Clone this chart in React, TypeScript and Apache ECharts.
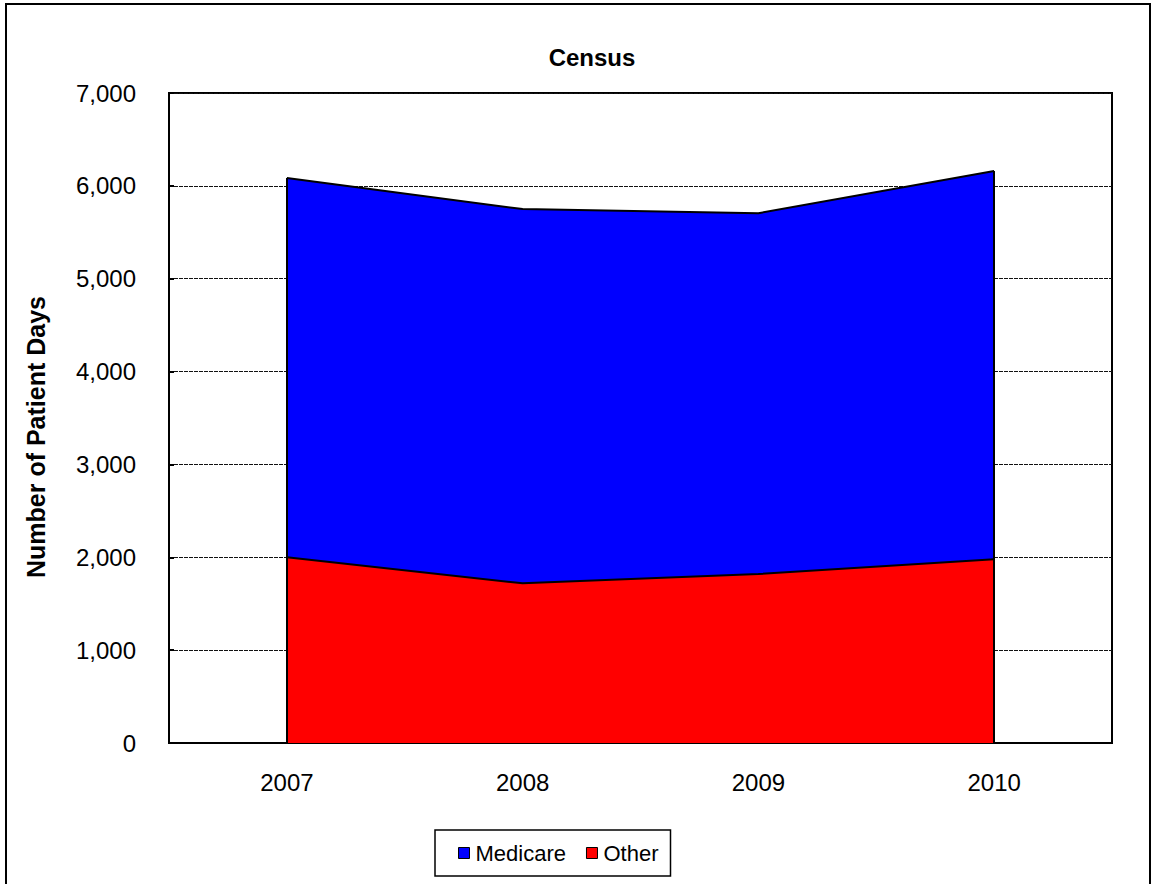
import React, { useEffect, useRef } from "react";
import * as echarts from "echarts";

const categories = ["2007", "2008", "2009", "2010"];
const otherValues = [2000, 1720, 1820, 1980];
const medicareValues = [4085, 4030, 3885, 4180];
const yTicks = [0, 1000, 2000, 3000, 4000, 5000, 6000, 7000];

export default function App() {
  const ref = useRef<HTMLDivElement>(null);
  useEffect(() => {
    if (!ref.current) return;
    const chart = echarts.init(ref.current, null, { renderer: "svg" });
    const last = categories.length - 1;
    const total = (i: number) => otherValues[i] + medicareValues[i];
    const font = "'Liberation Sans', Arial, sans-serif";
    chart.setOption({
      animation: false,
      backgroundColor: "#fff",
      title: {
        text: "Census",
        left: 587,
        textAlign: "center",
        top: 40,
        textStyle: { fontFamily: font, fontSize: 24, fontWeight: "bold", color: "#000" },
      },
      legend: {
        data: ["Medicare", "Other"],
        left: 435,
        top: 830,
        orient: "horizontal",
        padding: [12, 12, 12, 23],
        itemGap: 20,
        itemWidth: 11,
        itemHeight: 11,
        icon: "rect",
        borderColor: "#000",
        borderWidth: 1.5,
        textStyle: { fontFamily: font, fontSize: 22, color: "#000", padding: [0, 0, 0, 1] },
        itemStyle: { borderColor: "#000", borderWidth: 1 },
      },
      grid: {
        left: 169,
        right: 39,
        top: 93,
        bottom: 141,
        show: true,
        borderColor: "#000",
        borderWidth: 2,
        backgroundColor: "#fff",
      },
      xAxis: {
        type: "category",
        data: categories,
        boundaryGap: true,
        axisLine: { show: true, lineStyle: { color: "#000", width: 2 } },
        axisTick: { show: false },
        axisLabel: { fontFamily: font, fontSize: 24, color: "#000", margin: 27 },
      },
      yAxis: {
        type: "value",
        min: yTicks[0],
        max: yTicks[yTicks.length - 1],
        interval: 1000,
        axisLine: { show: true, lineStyle: { color: "#000", width: 2 } },
        axisTick: { show: true, inside: true, length: 5, lineStyle: { color: "#000", width: 2 } },
        axisLabel: {
          fontFamily: font,
          fontSize: 24,
          color: "#000",
          margin: 33,
          formatter: (v: number) => v.toLocaleString("en-US"),
        },
        splitLine: { show: true, lineStyle: { color: "#111", width: 1.2, type: [4, 1] } },
      },
      series: [
        {
          name: "Other",
          type: "line",
          stack: "total",
          data: otherValues,
          symbol: "none",
          lineStyle: { color: "#000", width: 2 },
          itemStyle: { color: "#FF0000", borderColor: "#000" },
          areaStyle: { color: "#FF0000", opacity: 1 },
          z: 3,
        },
        {
          name: "Medicare",
          type: "line",
          stack: "total",
          data: medicareValues,
          symbol: "none",
          lineStyle: { color: "#000", width: 2 },
          itemStyle: { color: "#0000FF", borderColor: "#000" },
          areaStyle: { color: "#0000FF", opacity: 1 },
          z: 2,
          markLine: {
            silent: true,
            symbol: "none",
            label: { show: false },
            lineStyle: { color: "#000", width: 2, type: "solid" },
            data: [
              [{ coord: [categories[0], 0] }, { coord: [categories[0], total(0)] }],
              [{ coord: [categories[last], 0] }, { coord: [categories[last], total(last)] }],
            ],
          },
        },
      ],
      graphic: [
        {
          type: "rect",
          shape: { x: 6, y: 4, width: 1144, height: 900 },
          style: { fill: "none", stroke: "#000", lineWidth: 2 },
          silent: true,
        },
        {
          type: "text",
          x: 36,
          y: 437,
          rotation: Math.PI / 2,
          silent: true,
          style: {
            text: "Number of Patient Days",
            fontFamily: font,
            fontSize: 25,
            fontWeight: "bold",
            fill: "#000",
            align: "center",
            verticalAlign: "middle",
          },
        },
      ],
    });
    return () => chart.dispose();
  }, []);
  return (
    <div
      ref={ref}
      style={{ position: "fixed", left: 0, top: 0, width: 1151, height: 884 }}
    />
  );
}
